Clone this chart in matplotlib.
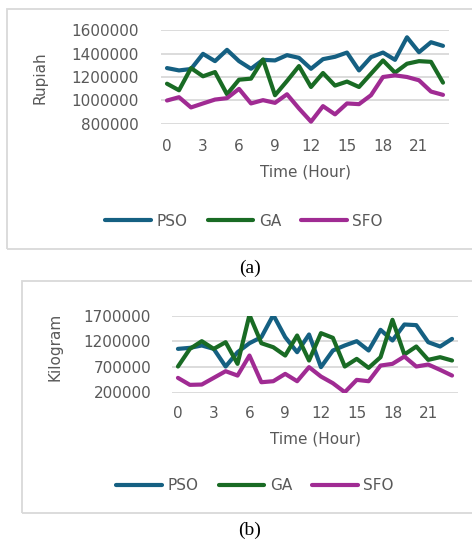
import matplotlib
matplotlib.use('Agg')
import matplotlib.pyplot as plt
import matplotlib.patches as patches
import numpy as np

# hours 0..23
hours = list(range(24))
hour_ticks = [0, 3, 6, 9, 12, 15, 18, 21]

# (a) cost in Rupiah
pso_cost = [1276000, 1256000, 1268000, 1397000, 1335000, 1431000, 1335000, 1270000,
            1346000, 1341000, 1386000, 1363000, 1270000, 1352000, 1372000, 1408000,
            1256000, 1369000, 1408000, 1346000, 1538000, 1411000, 1496000, 1465000]
ga_cost = [1143000, 1087000, 1276000, 1206000, 1242000, 1053000, 1177000, 1186000,
           1349000, 1045000, 1166000, 1293000, 1115000, 1234000, 1127000, 1161000,
           1115000, 1228000, 1341000, 1237000, 1313000, 1335000, 1329000, 1152000]
sfo_cost = [1000000, 1028000, 941000, 975000, 1008000, 1020000, 1099000, 975000,
            1003000, 980000, 1053000, 932000, 820000, 952000, 882000, 975000,
            969000, 1045000, 1200000, 1214000, 1200000, 1172000, 1076000, 1048000]
cost_ticks = [800000, 1000000, 1200000, 1400000, 1600000]

# (b) emission in Kilogram
pso_emis = [1050000, 1070000, 1116000, 1050000, 706000, 985000, 1160000, 1278000,
            1710000, 1278000, 985000, 1330000, 694000, 1018000, 1116000, 1200000,
            1018000, 1421000, 1213000, 1525000, 1512000, 1180000, 1096000, 1245000]
ga_emis = [706000, 1050000, 1200000, 1050000, 1180000, 758000, 1710000, 1160000,
           1082000, 920000, 1310000, 823000, 1356000, 1265000, 706000, 855000,
           680000, 888000, 1616000, 940000, 1096000, 836000, 888000, 823000]
sfo_emis = [485000, 349000, 355000, 485000, 615000, 530000, 920000, 400000,
            420000, 563000, 420000, 694000, 511000, 381000, 206000, 446000,
            420000, 725000, 758000, 901000, 706000, 745000, 641000, 530000]
emis_ticks = [200000, 700000, 1200000, 1700000]

W, H = 472, 545
C_PSO = '#156082'
C_GA = '#196b24'
C_SFO = '#a02b93'
TXT = '#595959'
GRID = '#d9d9d9'
FS = 11


def px_axes(l, t, r, b):
    # pixel box -> figure fraction rect
    return [l / W, 1 - b / H, (r - l) / W, (b - t) / H]


def draw_panel(fig, rect, series, yticks, ylabel, ylab_x, ylab_y, xlab_y, leg_xy, ypad, xpad):
    ax = fig.add_axes(rect)
    for vals, col, name in series:
        ax.plot(hours, vals, color=col, lw=3, label=name, solid_capstyle='round',
                solid_joinstyle='round')
    ax.set_xlim(-0.5, 23.5)
    ax.set_ylim(yticks[0], yticks[-1])
    ax.set_yticks(yticks)
    ax.set_yticklabels([str(v) for v in yticks])
    ax.set_xticks(hour_ticks)
    ax.grid(axis='y', color=GRID, lw=1.3)
    ax.set_axisbelow(True)
    for s in ax.spines.values():
        s.set_visible(False)
    ax.tick_params(axis='y', length=0, pad=ypad, labelsize=FS, labelcolor=TXT)
    ax.tick_params(axis='x', length=0, pad=xpad, labelsize=FS, labelcolor=TXT)
    # axis titles, placed by pixel
    l, b, w, h = rect
    ax.set_ylabel(ylabel, fontsize=FS, color=TXT)
    ax.yaxis.set_label_coords((ylab_x / W - l) / w, ((1 - ylab_y / H) - b) / h)
    ax.set_xlabel('Time (Hour)', fontsize=FS, color=TXT)
    ax.xaxis.set_label_coords(0.5, ((1 - xlab_y / H) - b) / h)
    ax.xaxis.label.set_va('center')
    ax.legend(loc='center', bbox_to_anchor=(leg_xy[0] / W, 1 - leg_xy[1] / H),
              bbox_transform=fig.transFigure, ncol=3, frameon=False, fontsize=FS,
              labelcolor=TXT, handlelength=3.0, handletextpad=0.35, columnspacing=1.3)
    return ax


fig = plt.figure(figsize=(W / 100, H / 100), dpi=100)

# chart frames
fig.patches.append(patches.Rectangle((7 / W, 1 - 248.5 / H), 1.0, 239.5 / H,
                                     transform=fig.transFigure, fill=False,
                                     edgecolor=GRID, lw=1.3))
fig.patches.append(patches.Rectangle((22 / W, 1 - 513 / H), 1.0, 232 / H,
                                     transform=fig.transFigure, fill=False,
                                     edgecolor=GRID, lw=1.3))

draw_panel(fig, px_axes(161, 30, 449, 124),
           [(pso_cost, C_PSO, 'PSO'), (ga_cost, C_GA, 'GA'), (sfo_cost, C_SFO, 'SFO')],
           cost_ticks, 'Rupiah', 47, 78, 172, (244, 221), 16, 11)

draw_panel(fig, px_axes(172, 315.5, 458, 392.5),
           [(pso_emis, C_PSO, 'PSO'), (ga_emis, C_GA, 'GA'), (sfo_emis, C_SFO, 'SFO')],
           emis_ticks, 'Kilogram', 62, 347, 439, (255, 486), 15, 10)

fig.text(250 / W, 1 - 268 / H, '(a)', ha='center', va='center',
         family='Liberation Serif', fontsize=14)
fig.text(250 / W, 1 - 530 / H, '(b)', ha='center', va='center',
         family='Liberation Serif', fontsize=14)

fig.savefig('out.png', dpi=100)
